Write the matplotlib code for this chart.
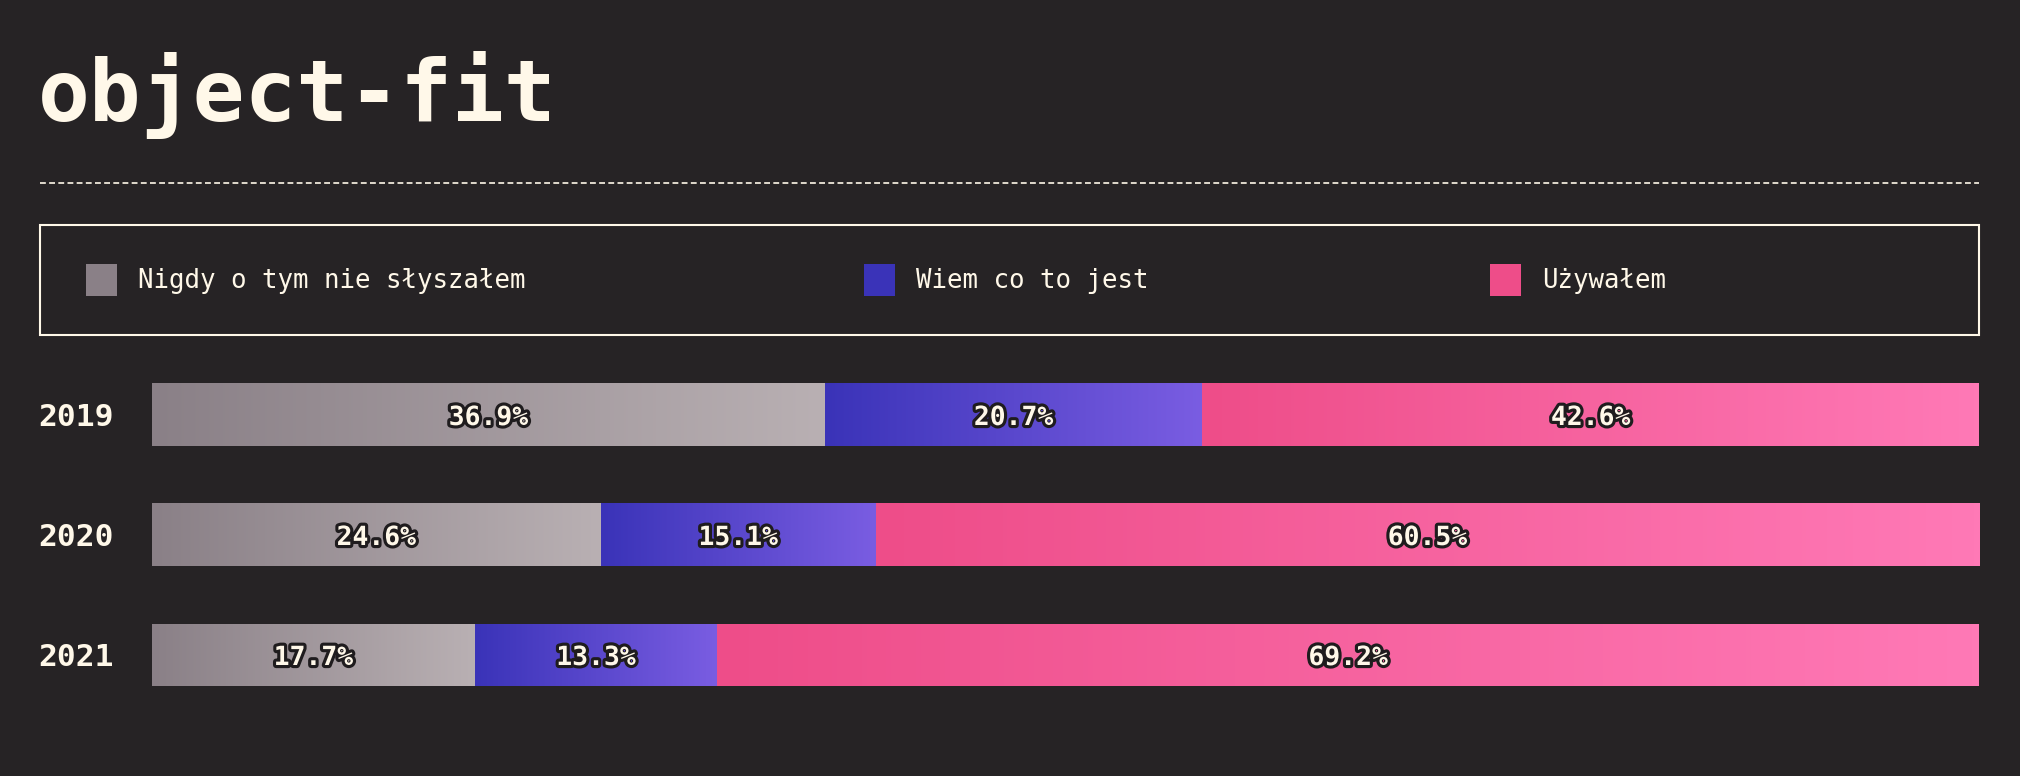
import matplotlib
matplotlib.use('Agg')
import numpy as np
import matplotlib.pyplot as plt
import matplotlib.patheffects as pe
from matplotlib.colors import LinearSegmentedColormap
from matplotlib.patches import Rectangle
from matplotlib.lines import Line2D
from matplotlib.transforms import blended_transform_factory

# data
years = ['2019', '2020', '2021']
series_names = ['Nigdy o tym nie słyszałem', 'Wiem co to jest', 'Używałem']
never_heard = [36.9, 24.6, 17.7]
know_it = [20.7, 15.1, 13.3]
used_it = [42.6, 60.5, 69.2]

BG = '#262325'
CREAM = '#fff8e9'
gradients = [('#8a8087', '#b9b0b3'), ('#3a33b8', '#7a5de2'), ('#ee4d89', '#ff79b6')]
MONO = 'DejaVu Sans Mono'

W, H = 2020, 776


def fx(px):
    return px / W


def fy(py):
    return 1 - py / H


fig = plt.figure(figsize=(W / 100, H / 100), dpi=100, facecolor=BG)

# title + dashed rule
fig.text(fx(38), fy(121), 'object-fit', family=MONO, weight='bold', fontsize=62,
         color=CREAM, va='baseline')
fig.add_artist(Line2D([fx(40), fx(1979)], [fy(183), fy(183)], color=CREAM,
                      lw=1.2, dashes=(3.5, 2)))

# legend box
fig.add_artist(Rectangle((fx(40), fy(335)), fx(1979) - fx(40), (335 - 225) / H,
                         fill=False, ec=CREAM, lw=1.5))
swatch_x = [86, 864, 1490]
for sx, name, (c0, _) in zip(swatch_x, series_names, gradients):
    fig.add_artist(Rectangle((fx(sx), fy(296)), 31 / W, 32 / H, fc=c0, lw=0))
    fig.text(fx(sx + 52), fy(278), name, family=MONO, fontsize=18.5,
             color=CREAM, va='center_baseline')

# bars
ax = fig.add_axes([fx(152), fy(715), fx(1979) - fx(152), 360 / H])
ax.set_facecolor(BG)
ax.axis('off')

ypos = np.arange(len(years))
left = np.zeros(len(years))
outline = [pe.withStroke(linewidth=4.5, foreground='#1f1c1e')]
grad = np.linspace(0, 1, 256).reshape(1, -1)
for vals, (c0, c1) in zip([never_heard, know_it, used_it], gradients):
    bars = ax.barh(ypos, vals, left=left, height=0.525, color='none', linewidth=0)
    cmap = LinearSegmentedColormap.from_list('g', [c0, c1])
    for bar, v in zip(bars, vals):
        x0, y0 = bar.get_x(), bar.get_y()
        w, h = bar.get_width(), bar.get_height()
        im = ax.imshow(grad, cmap=cmap, aspect='auto', interpolation='bilinear',
                       extent=[x0, x0 + w, y0 + h, y0])
        im.set_clip_path(bar)
        ax.text(x0 + w / 2, y0 + h / 2, f'{v:.1f}%', family=MONO, weight='bold',
                fontsize=19, color=CREAM, ha='center', va='center_baseline',
                path_effects=outline)
    left += np.array(vals)

ax.set_xlim(0, left.max())
ax.set_ylim(len(years) - 0.5, -0.5)

trans = blended_transform_factory(fig.transFigure, ax.transData)
for y, yr in zip(ypos, years):
    ax.text(fx(38), y, yr, transform=trans, family=MONO, weight='bold',
            fontsize=22.5, color=CREAM, va='center_baseline')

fig.savefig('out.png', dpi=100, facecolor=BG)
